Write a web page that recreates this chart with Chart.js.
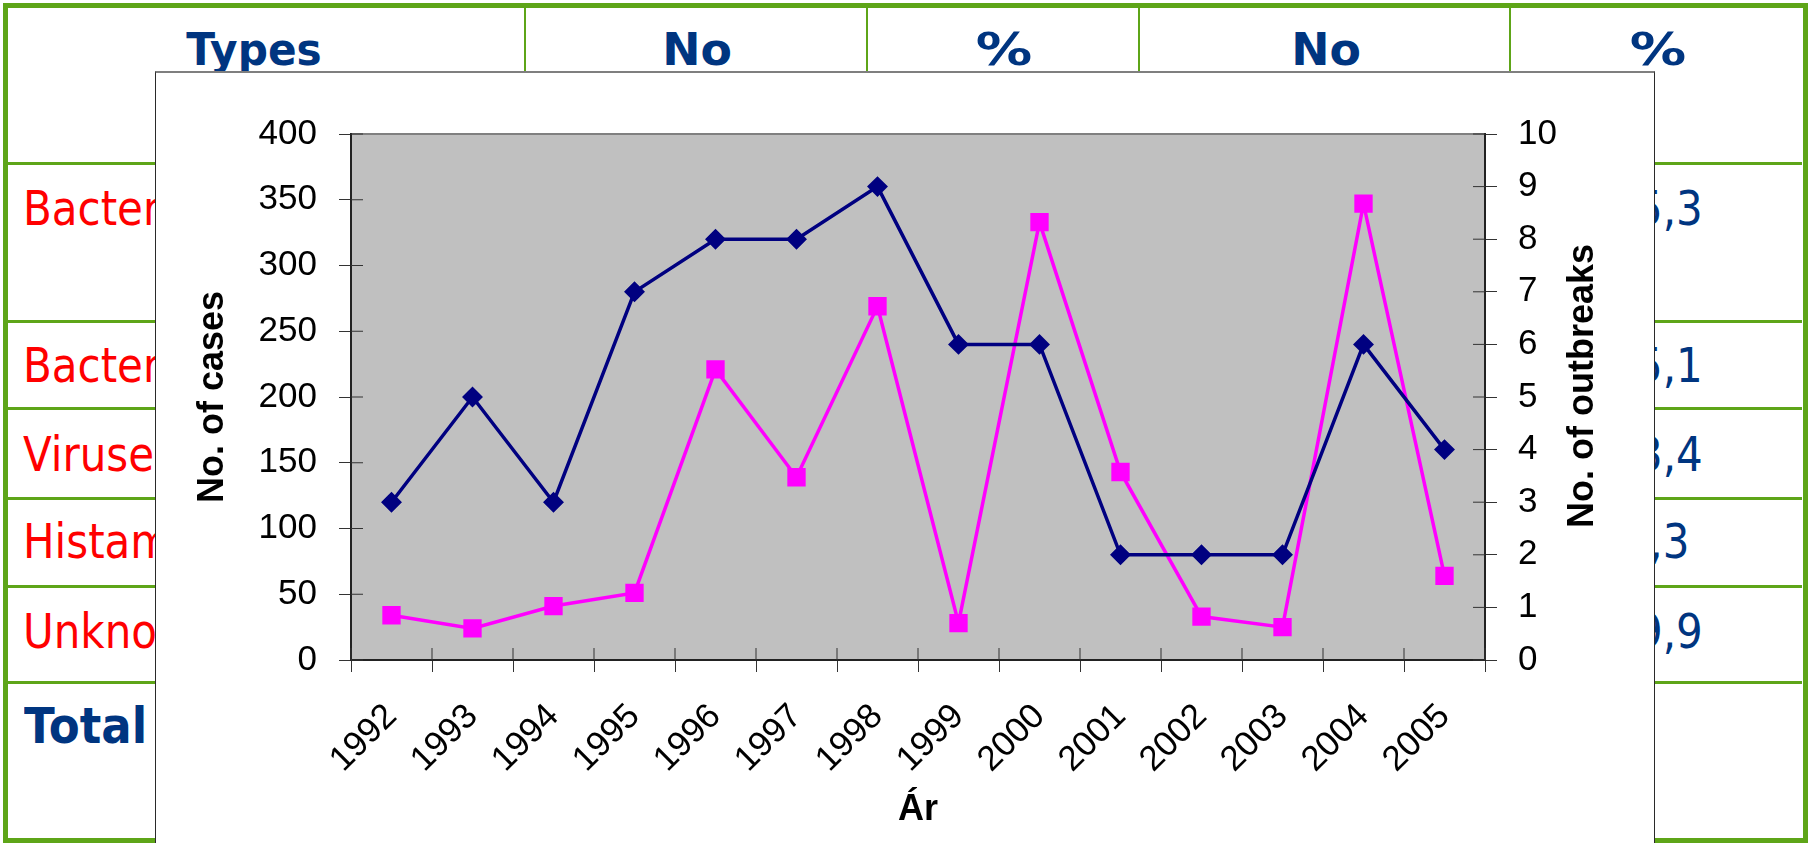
<!DOCTYPE html>
<html>
<head>
<meta charset="utf-8">
<script src="https://cdn.jsdelivr.net/npm/chart.js@4.4.1/dist/chart.umd.min.js"></script>
<style>
  html, body { margin:0; padding:0; background:#fff; }
  body { width:1816px; height:843px; overflow:hidden; position:relative; }
  .frame { position:absolute; left:3px; top:3px; width:1805px; height:840px; border:5px solid #5ea518; box-sizing:border-box; }
  .hl { position:absolute; left:8px; width:1794px; height:3px; background:#5ea518; }
  .vl { position:absolute; top:8px; height:154px; width:2px; background:#5ea518; }
  .hd { position:absolute; top:28px; font-family:"DejaVu Sans"; font-weight:bold; font-size:44px; line-height:44px; color:#003580; white-space:nowrap; }
  .rw { position:absolute; left:23px; font-family:"DejaVu Sans"; font-size:48px; line-height:48px; color:#ff0000; white-space:nowrap; transform:scaleX(0.875); transform-origin:left top; }
  .pc { position:absolute; left:1656px; font-family:"DejaVu Sans"; font-size:48px; line-height:48px; color:#003580; white-space:nowrap; transform:translateX(-50%) scaleX(0.875); }
  .tot { position:absolute; left:24px; top:702px; font-family:"DejaVu Sans"; font-weight:bold; font-size:49px; line-height:49px; color:#003580; white-space:nowrap; transform:scaleX(0.92); transform-origin:left top; }
  #box { position:absolute; left:155px; top:71px; width:1500px; height:772px; box-sizing:border-box; background:#fff;
         border-top:2px solid #7f7f7f; border-left:1px solid #2a2a2a; border-right:1px solid #2a2a2a; z-index:2; }
  #wrap { position:relative; width:1498px; height:770px; }
</style>
</head>
<body>
<div class="frame"></div>
<div class="vl" style="left:524px"></div>
<div class="vl" style="left:866px"></div>
<div class="vl" style="left:1138px"></div>
<div class="vl" style="left:1509px"></div>
<div class="hl" style="top:162px"></div>
<div class="hl" style="top:320px"></div>
<div class="hl" style="top:407px"></div>
<div class="hl" style="top:497px"></div>
<div class="hl" style="top:585px"></div>
<div class="hl" style="top:681px"></div>

<div class="hd" style="left:254px; transform:translateX(-50%) scaleX(0.96)">Types</div>
<div class="hd" style="left:697px; transform:translateX(-50%) scaleX(1.04)">No</div>
<div class="hd" style="left:1004px; transform:translateX(-50%) scaleX(1.28)">%</div>
<div class="hd" style="left:1326px; transform:translateX(-50%) scaleX(1.04)">No</div>
<div class="hd" style="left:1658px; transform:translateX(-50%) scaleX(1.28)">%</div>

<div class="rw" style="top:184px">Bacterial toxins</div>
<div class="rw" style="top:341px">Bacteria</div>
<div class="rw" style="top:430px">Viruses</div>
<div class="rw" style="top:517px">Histamine</div>
<div class="rw" style="top:607px">Unknown</div>
<div class="tot">Total</div>

<div class="pc" style="top:184px">25,3</div>
<div class="pc" style="top:341px">25,1</div>
<div class="pc" style="top:430px">13,4</div>
<div class="pc" style="top:517px">1,3</div>
<div class="pc" style="top:607px">19,9</div>

<div id="box"><div id="wrap"><canvas id="chart"></canvas></div></div>

<script>
// data
var years = ['1992','1993','1994','1995','1996','1997','1998','1999','2000','2001','2002','2003','2004','2005'];
var cases = [34, 24, 41, 51, 221, 139, 269, 28, 333, 143, 33, 25, 347, 64];
var outbreaks = [3, 5, 3, 7, 8, 8, 9, 6, 6, 2, 2, 2, 6, 4];
var caseTicks = [0, 50, 100, 150, 200, 250, 300, 350, 400];
var outbreakTicks = [0, 1, 2, 3, 4, 5, 6, 7, 8, 9, 10];
var rightTitle = 'No. of outbreaks';

Chart.defaults.font.family = '"Liberation Sans", Arial, sans-serif';
Chart.defaults.color = '#000';

// grey plot area, inner half of the tick marks, right title read bottom-up like excel
var plotArea = {
    id: 'plotArea',
    beforeDraw: function(chart) {
        var ctx = chart.ctx, a = chart.chartArea;
        ctx.save();
        ctx.fillStyle = '#c0c0c0';
        ctx.fillRect(a.left, a.top, a.right - a.left, a.bottom - a.top);
        ctx.strokeStyle = '#808080';
        ctx.lineWidth = 2;
        ctx.beginPath();
        ctx.moveTo(a.left, a.top);
        ctx.lineTo(a.right, a.top);
        ctx.stroke();
        ctx.restore();
    },
    beforeDatasetsDraw: function(chart) {
        var ctx = chart.ctx, a = chart.chartArea, s = chart.scales;
        ctx.save();
        ctx.strokeStyle = '#333';
        ctx.lineWidth = 1;
        ctx.beginPath();
        s.y.ticks.forEach(function(t, i){
            var p = s.y.getPixelForTick(i);
            ctx.moveTo(a.left, p); ctx.lineTo(a.left + 12, p);
        });
        s.y1.ticks.forEach(function(t, i){
            var p = s.y1.getPixelForTick(i);
            ctx.moveTo(a.right - 12, p); ctx.lineTo(a.right, p);
        });
        for (var i = 0; i <= years.length; i++) {
            var p = s.x.getPixelForValue(i - 0.5);
            ctx.moveTo(p, a.bottom - 12); ctx.lineTo(p, a.bottom);
        }
        ctx.stroke();
        ctx.restore();
    },
    afterDraw: function(chart) {
        var ctx = chart.ctx, s = chart.scales.y1;
        ctx.save();
        ctx.font = 'bold 36px "Liberation Sans", Arial, sans-serif';
        ctx.fillStyle = '#000';
        ctx.textAlign = 'center';
        ctx.textBaseline = 'middle';
        ctx.translate(s.right - 71, (s.top + s.bottom) / 2 - 11);
        ctx.rotate(-Math.PI / 2);
        ctx.fillText(rightTitle, 0, 0);
        ctx.restore();
    }
};

var tickGrid = { drawOnChartArea: false, tickLength: 12, tickColor: '#333', tickWidth: 1, color: '#333' };
var axisBorder = { display: true, color: '#222', width: 2 };

new Chart(document.getElementById('chart'), {
    type: 'line',
    data: {
        labels: years,
        datasets: [{
            label: 'No. of outbreaks',
            data: outbreaks,
            yAxisID: 'y1',
            borderColor: '#000080',
            backgroundColor: '#000080',
            borderWidth: 3.5,
            pointStyle: 'rectRot',
            pointRadius: 8,
            pointBackgroundColor: '#000080',
            pointBorderColor: '#000080',
            tension: 0
        }, {
            label: 'No. of cases',
            data: cases,
            yAxisID: 'y',
            borderColor: '#ff00ff',
            backgroundColor: '#ff00ff',
            borderWidth: 3.5,
            pointStyle: 'rect',
            pointRadius: 10.5,
            pointBackgroundColor: '#ff00ff',
            pointBorderColor: '#ff00ff',
            tension: 0
        }]
    },
    options: {
        responsive: true,
        maintainAspectRatio: false,
        animation: false,
        layout: { padding: { top: 61, left: 0, right: 0, bottom: 0 } },
        plugins: { legend: { display: false }, tooltip: { enabled: false } },
        scales: {
            x: {
                type: 'category',
                offset: true,
                grid: Object.assign({ offset: true }, tickGrid),
                border: axisBorder,
                ticks: { autoSkip: false, minRotation: 45, maxRotation: 45, padding: 24, font: { size: 35 } },
                title: { display: true, text: 'Ár', font: { size: 36, weight: 'bold' }, padding: { top: 0, bottom: 11 } },
                afterFit: function(s){ s.height = 183; }
            },
            y: {
                position: 'left',
                min: caseTicks[0],
                max: caseTicks[caseTicks.length - 1],
                grid: tickGrid,
                border: axisBorder,
                ticks: { stepSize: caseTicks[1] - caseTicks[0], padding: 22, font: { size: 35 } },
                title: { display: true, text: 'No. of cases', font: { size: 36, weight: 'bold' }, padding: { top: 35, bottom: 0 } },
                afterFit: function(s){ s.width = 195; }
            },
            y1: {
                position: 'right',
                min: outbreakTicks[0],
                max: outbreakTicks[outbreakTicks.length - 1],
                grid: tickGrid,
                border: axisBorder,
                ticks: { stepSize: outbreakTicks[1] - outbreakTicks[0], padding: 21, font: { size: 35 } },
                title: { display: false },
                afterFit: function(s){ s.width = 169; }
            }
        }
    },
    plugins: [plotArea]
});
</script>
</body>
</html>
